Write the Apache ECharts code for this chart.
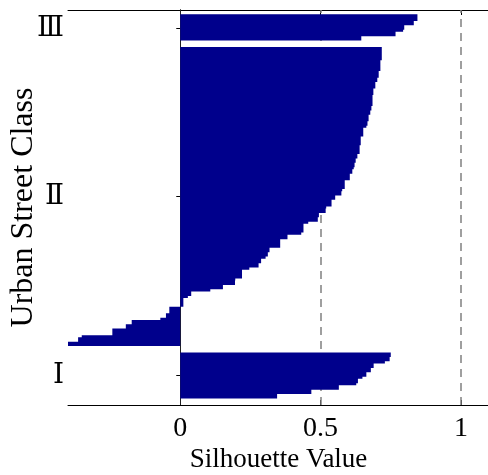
<!DOCTYPE html>
<html>
<head>
<meta charset="utf-8">
<script src="https://cdn.jsdelivr.net/npm/echarts@6/dist/echarts.min.js"></script>
<style>
html,body{margin:0;padding:0;background:#fff;}
#chart{width:488px;height:475px;}
</style>
</head>
<body>
<div id="chart"></div>
<script>
// Cluster labels (bottom to top)
const clusterNames = ['Ⅰ', 'Ⅱ', 'Ⅲ'];
// Silhouette values per member, listed top to bottom as drawn (descending)
const clusterI = [0.750, 0.750, 0.746, 0.746, 0.729, 0.689, 0.689, 0.679, 0.679, 0.663, 0.663,
  0.649, 0.633, 0.633, 0.627, 0.565, 0.565, 0.467, 0.467, 0.345, 0.345];
const clusterII = [0.718, 0.718, 0.718, 0.718, 0.718, 0.718,
  0.713, 0.713, 0.713, 0.713, 0.713,
  0.707, 0.707, 0.707, 0.702, 0.702,
  0.695, 0.695, 0.695, 0.688, 0.688, 0.688,
  0.685, 0.685, 0.685, 0.685, 0.685,
  0.681, 0.681, 0.677, 0.677, 0.671, 0.671, 0.671,
  0.667, 0.667, 0.663, 0.652, 0.652, 0.652, 0.652,
  0.643, 0.643, 0.643, 0.643, 0.639, 0.639, 0.639, 0.639,
  0.631, 0.631, 0.625, 0.625, 0.621, 0.621, 0.618,
  0.613, 0.613, 0.604, 0.604, 0.604,
  0.586, 0.586, 0.586, 0.586, 0.577, 0.574, 0.574,
  0.552, 0.552, 0.539, 0.539, 0.539, 0.520, 0.518, 0.518,
  0.494, 0.494, 0.490, 0.490, 0.456,
  0.439, 0.439, 0.439, 0.439, 0.431, 0.382, 0.382,
  0.356, 0.356, 0.356, 0.356, 0.318, 0.318, 0.312, 0.312, 0.304,
  0.288, 0.288, 0.279, 0.279, 0.246,
  0.220, 0.220, 0.220, 0.220, 0.196, 0.195, 0.195,
  0.152, 0.152, 0.107, 0.039, 0.039, 0.027,
  0.011, 0.011, 0.011, 0.011,
  -0.039, -0.039, -0.039, -0.051, -0.051, -0.071,
  -0.173, -0.173, -0.194, -0.194, -0.242, -0.242, -0.242,
  -0.351, -0.364, -0.364, -0.403, -0.403];
const clusterIII = [0.845, 0.845, 0.845, 0.832, 0.832, 0.798, 0.798, 0.794, 0.767, 0.767, 0.645, 0.645];
const xTickValues = [0, 0.5, 1];
const refLines = [0.5, 1];

// Build rows bottom -> top, with empty spacer rows between clusters
const GAP = 3, BOTTOM_PAD = 3, TOP_PAD = 2;
const rows = [];
const labelAt = {};
function pad(n) { for (let i = 0; i < n; i++) rows.push(null); }
pad(BOTTOM_PAD);
[clusterI, clusterII, clusterIII].forEach((vals, k) => {
  if (k > 0) pad(GAP);
  const start = rows.length;
  const asc = vals.slice().reverse();
  asc.forEach(v => rows.push(v));
  labelAt[start + Math.floor((vals.length - 1) / 2)] = clusterNames[k];
});
pad(TOP_PAD);
const categories = rows.map((_, i) => String(i));

const serif = "'Liberation Serif', 'DejaVu Serif', 'Times New Roman', serif";
const isLabelRow = (idx) => labelAt[idx] !== undefined;
const BAR_COLOR = '#00008C';

const chart = echarts.init(document.getElementById('chart'));
chart.setOption({
  animation: false,
  grid: { left: 68, top: 10, width: 421, bottom: 70, containLabel: false, outerBoundsMode: 'none' },
  xAxis: [{
    type: 'value', min: -0.4, max: 1.1, position: 'bottom',
    axisLine: { show: true, lineStyle: { color: '#000', width: 1 } },
    axisTick: { show: true, inside: true, length: 5, customValues: xTickValues, lineStyle: { color: '#000' } },
    axisLabel: { customValues: xTickValues, fontSize: 28, fontFamily: serif, color: '#000', margin: 10,
      formatter: v => String(v) },
    splitLine: { show: false },
    name: 'Silhouette Value', nameLocation: 'middle', nameGap: 41, nameMoveOverlap: false,
    nameTextStyle: { fontSize: 27, fontFamily: serif, color: '#000' }
  }, {
    type: 'value', min: -0.4, max: 1.1, position: 'top',
    axisLine: { show: true, lineStyle: { color: '#000', width: 1 } },
    axisTick: { show: true, inside: true, length: 5, customValues: xTickValues, lineStyle: { color: '#000' } },
    axisLabel: { show: false },
    splitLine: { show: false }
  }],
  yAxis: [{
    type: 'category', data: categories, position: 'left',
    axisLine: { show: true, lineStyle: { color: '#000', width: 1 } },
    axisTick: { show: true, inside: true, length: 4, alignWithLabel: true,
      interval: (idx) => isLabelRow(idx), lineStyle: { color: '#000' } },
    axisLabel: { interval: (idx) => isLabelRow(idx), formatter: (v, idx) => labelAt[idx] || '',
      fontSize: 28, fontFamily: serif, color: '#000', margin: 4 },
    splitLine: { show: false },
    name: 'Urban Street Class', nameLocation: 'middle', nameGap: 28, nameMoveOverlap: false,
    nameTextStyle: { fontSize: 32, fontFamily: serif, color: '#000' }
  }, {
    type: 'category', data: categories, position: 'right',
    axisLine: { show: true, lineStyle: { color: '#000', width: 1 } },
    axisTick: { show: true, inside: true, length: 4, alignWithLabel: true,
      interval: (idx) => isLabelRow(idx), lineStyle: { color: '#000' } },
    axisLabel: { show: false },
    splitLine: { show: false }
  }],
  series: [{
    type: 'bar',
    xAxisIndex: 0, yAxisIndex: 0,
    data: rows,
    barWidth: '100%',
    large: true, largeThreshold: 1,
    itemStyle: { color: BAR_COLOR },
    z: 2,
    markLine: {
      silent: true, symbol: ['none', 'none'], z: 1,
      label: { show: false },
      data: [
        { xAxis: 0, lineStyle: { color: '#222', type: 'solid', width: 1 } },
        ...refLines.map(v => ({ xAxis: v, lineStyle: { color: '#808080', type: [8, 6], width: 1.5 } }))
      ]
    }
  }]
});
</script>
</body>
</html>
